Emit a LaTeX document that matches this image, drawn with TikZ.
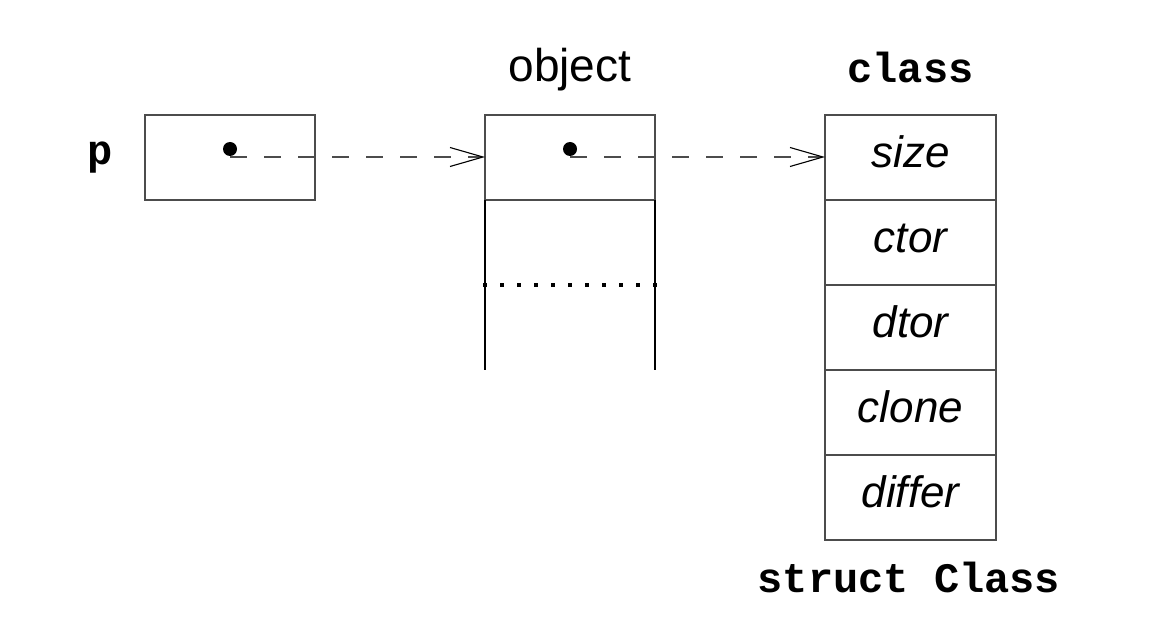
\documentclass[tikz,border=0pt]{standalone}
\usepackage{fontspec}
\setmainfont{Liberation Sans}
\setmonofont{Liberation Mono}
\usetikzlibrary{arrows.meta,calc}
\begin{document}
\begin{tikzpicture}[x=1pt,y=-1pt,
  cell/.style={draw=black!70,line width=1.2pt,minimum width=170pt,minimum height=85pt,inner sep=0pt,outer sep=0pt,
     font=\fontsize{44}{50}\selectfont\itshape,text height=26pt,text depth=6pt},
  lbl/.style={anchor=base,inner sep=0pt},
  mono/.style={font=\fontsize{42}{50}\selectfont\ttfamily\bfseries},
  sans/.style={font=\fontsize{46}{50}\selectfont},
  ptr/.style={draw=black!70,line width=1.2pt,dash pattern=on 17pt off 17pt,
     -{Straight Barb[length=33pt,width=19pt,line width=1.1pt,black]}},
  dotc/.style={circle,fill=black,inner sep=0pt,minimum size=14pt},
  wall/.style={draw=black,line width=1.2pt}]
\useasboundingbox (0,0) rectangle (1164,628);
% p
\node[lbl,mono] (plab) at (100,165) {p};
\node[cell] (pbox) at (230,157.5) {};
\node[dotc] (pdot) at (230,149) {};
\coordinate (pstart) at (230,157);
% object
\node[lbl,sans] (olab) at (570,82) {object};
\node[cell] (o1) at (570,157.5) {};
\node[dotc] (odot) at (570,149) {};
\coordinate (ostart) at (570,157);
\coordinate (obl) at (485,370);
\coordinate (obr) at (655,370);
\coordinate (odl) at (483.4,285);
\coordinate (odr) at (659,285);
\draw[wall] (o1.south west) -- (obl);
\draw[wall] (o1.south east) -- (obr);
\draw[line width=3.2pt,dash pattern=on 3.2pt off 13.8pt] (odl) -- (odr);
% class
\node[lbl,mono] (clab) at (910.5,83) {class};
\node[cell,minimum width=171pt] (c1) at (910.5,157.5) {size};
\node[cell,minimum width=171pt,anchor=north] (c2) at (c1.south) {ctor};
\node[cell,minimum width=171pt,anchor=north] (c3) at (c2.south) {dtor};
\node[cell,minimum width=171pt,anchor=north] (c4) at (c3.south) {clone};
\node[cell,minimum width=171pt,anchor=north] (c5) at (c4.south) {differ};
\node[lbl,mono] (slab) at (909,592) {struct Class};
% pointers
\draw[ptr] (pstart) -- (pstart -| o1.west);
\draw[ptr] (ostart) -- (ostart -| c1.west);
\end{tikzpicture}
\end{document}
